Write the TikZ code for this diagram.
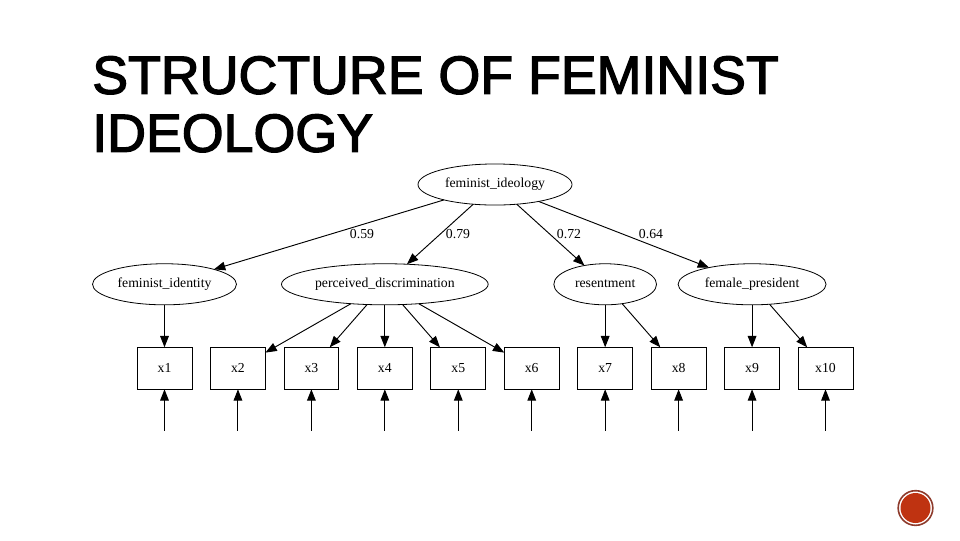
\documentclass[tikz,border=0pt]{standalone}
\usepackage{fontspec}
\setmainfont{Liberation Serif}
\newfontfamily\titlefont[FakeBold=2.4]{Liberation Sans}
\usetikzlibrary{arrows.meta,positioning,shapes.geometric}
\definecolor{badgered}{HTML}{BF3311}
\definecolor{badgering}{HTML}{8E3B2C}

\begin{document}
\begin{tikzpicture}[
  x=0.75pt, y=-0.75pt,
  node distance=11.2mm and 4.88mm,
  indicator/.style={draw, rectangle, minimum width=41.2pt, minimum height=31.5pt, line width=0.6pt,
    inner sep=0pt, outer sep=0pt, font=\fontsize{10.3}{12}\selectfont},
  factor/.style={draw, ellipse, minimum height=30.8pt, inner sep=0pt, outer sep=0pt, line width=0.6pt,
    text height=7pt, text depth=2.2pt, font=\fontsize{10.3}{12}\selectfont},
  weight/.style={inner sep=0pt, font=\fontsize{10.3}{12}\selectfont},
  arrow/.style={-{Stealth[length=8.5pt, width=6.5pt, inset=0pt]}, line width=0.7pt}]
\useasboundingbox (0,0) rectangle (960,540);
\node[anchor=north west, inner sep=0pt, align=left,
  font=\titlefont\fontsize{40.3}{43.5}\selectfont] (title) at (92,56)
  {STRUCTURE OF FEMINIST\\IDEOLOGY};
% observed variables
\node[indicator] (x1) at (164.5,368.3) {x1};
\node[indicator, right=of x1] (x2) {x2};
\node[indicator, right=of x2] (x3) {x3};
\node[indicator, right=of x3] (x4) {x4};
\node[indicator, right=of x4] (x5) {x5};
\node[indicator, right=of x5] (x6) {x6};
\node[indicator, right=of x6] (x7) {x7};
\node[indicator, right=of x7] (x8) {x8};
\node[indicator, right=of x8] (x9) {x9};
\node[indicator, right=of x9] (x10) {x10};
% factors
\node[factor, minimum width=108pt, above=of x1] (identity) {feminist\_identity};
\node[factor, minimum width=155pt, above=of x4] (discrimination) {perceived\_discrimination};
\node[factor, minimum width=77pt, above=of x7] (resentment) {resentment};
\node[factor, minimum width=111pt, above=of x9] (president) {female\_president};
\node[factor, minimum width=115.5pt] (ideology) at (495,184.5) {feminist\_ideology};
\draw[arrow] (ideology) -- (identity);
\draw[arrow] (ideology) -- (discrimination);
\draw[arrow] (ideology) -- (resentment);
\draw[arrow] (ideology) -- (president);
\node[weight] (w1) at (362,234) {0.59};
\node[weight] (w2) at (458,234) {0.79};
\node[weight] (w3) at (569,234) {0.72};
\node[weight] (w4) at (651,234) {0.64};
\draw[arrow] (identity) -- (x1);
\draw[arrow] (discrimination) -- (x2);
\draw[arrow] (discrimination) -- (x3);
\draw[arrow] (discrimination) -- (x4);
\draw[arrow] (discrimination) -- (x5);
\draw[arrow] (discrimination) -- (x6);
\draw[arrow] (resentment) -- (x7);
\draw[arrow] (resentment) -- (x8);
\draw[arrow] (president) -- (x9);
\draw[arrow] (president) -- (x10);
% error terms
\coordinate[below=31pt of x1] (e1);
\coordinate[below=31pt of x2] (e2);
\coordinate[below=31pt of x3] (e3);
\coordinate[below=31pt of x4] (e4);
\coordinate[below=31pt of x5] (e5);
\coordinate[below=31pt of x6] (e6);
\coordinate[below=31pt of x7] (e7);
\coordinate[below=31pt of x8] (e8);
\coordinate[below=31pt of x9] (e9);
\coordinate[below=31pt of x10] (e10);
\draw[arrow] (e1) -- (x1);
\draw[arrow] (e2) -- (x2);
\draw[arrow] (e3) -- (x3);
\draw[arrow] (e4) -- (x4);
\draw[arrow] (e5) -- (x5);
\draw[arrow] (e6) -- (x6);
\draw[arrow] (e7) -- (x7);
\draw[arrow] (e8) -- (x8);
\draw[arrow] (e9) -- (x9);
\draw[arrow] (e10) -- (x10);
% slide number badge
\node[circle, fill=badgered, minimum size=22.5pt, inner sep=0pt] (badge) at (915.5,508) {};
\node[circle, draw=badgering, line width=1.2pt, minimum size=26pt, inner sep=0pt] (badgering) at (badge) {};
\end{tikzpicture}
\end{document}
